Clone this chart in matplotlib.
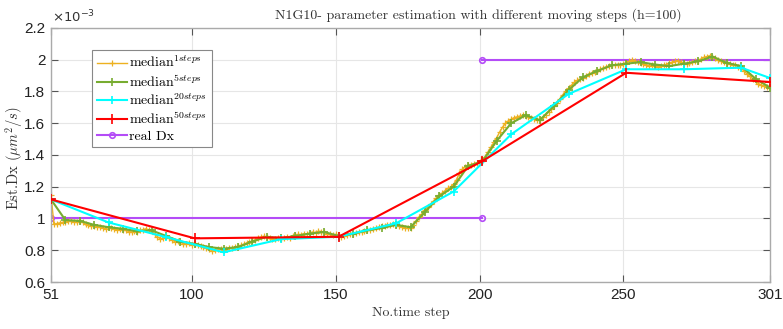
import numpy as np
import matplotlib
matplotlib.use("Agg")
import matplotlib.pyplot as plt

plt.rcParams['mathtext.fontset'] = 'cm'

# ---------------- data (Est. Dx in units of 1e-3) ----------------
steps_1 = list(range(51, 302))
median_1 = [1.15,
    0.965, 0.968, 0.972, 0.975,
    0.978, 0.982, 0.985, 0.98, 0.975,
    0.982, 0.975, 0.965, 0.958, 0.952,
    0.955, 0.948, 0.945, 0.94, 0.935,
    0.945, 0.94, 0.932, 0.928, 0.935,
    0.93, 0.925, 0.918, 0.915, 0.92,
    0.918, 0.925, 0.93, 0.935, 0.928,
    0.92, 0.905, 0.885, 0.872, 0.878,
    0.888, 0.88, 0.865, 0.855, 0.86,
    0.85, 0.842, 0.838, 0.845, 0.835,
    0.838, 0.83, 0.825, 0.818, 0.812,
    0.805, 0.798, 0.802, 0.81, 0.806,
    0.8, 0.808, 0.815, 0.812, 0.82,
    0.825, 0.83, 0.838, 0.845, 0.852,
    0.858, 0.865, 0.875, 0.882, 0.888,
    0.885, 0.878, 0.872, 0.868, 0.875,
    0.872, 0.878, 0.885, 0.88, 0.888,
    0.895, 0.9, 0.898, 0.905, 0.902,
    0.908, 0.915, 0.91, 0.92, 0.918,
    0.912, 0.905, 0.9, 0.895, 0.9,
    0.888, 0.882, 0.89, 0.898, 0.905,
    0.9, 0.908, 0.912, 0.918, 0.922,
    0.928, 0.925, 0.932, 0.938, 0.945,
    0.95, 0.955, 0.962, 0.958, 0.965,
    0.958, 0.95, 0.945, 0.94, 0.938,
    0.942, 0.96, 0.985, 1.01, 1.03,
    1.055, 1.075, 1.09, 1.11, 1.13,
    1.145, 1.16, 1.175, 1.19, 1.2,
    1.215, 1.245, 1.285, 1.31, 1.325,
    1.335, 1.34, 1.345, 1.35, 1.355,
    1.365, 1.39, 1.42, 1.45, 1.48,
    1.51, 1.545, 1.575, 1.6, 1.615,
    1.625, 1.635, 1.64, 1.645, 1.65,
    1.648, 1.64, 1.632, 1.625, 1.618,
    1.62, 1.638, 1.655, 1.672, 1.69,
    1.71, 1.73, 1.755, 1.78, 1.8,
    1.82, 1.84, 1.858, 1.87, 1.88,
    1.888, 1.9, 1.91, 1.915, 1.922,
    1.93, 1.94, 1.948, 1.955, 1.96,
    1.965, 1.968, 1.97, 1.965, 1.975,
    1.98, 1.99, 2.0, 1.995, 1.985,
    1.98, 1.975, 1.968, 1.962, 1.965,
    1.958, 1.955, 1.96, 1.965, 1.97,
    1.978, 1.985, 1.99, 1.995, 1.985,
    1.98, 1.975, 1.98, 1.985, 1.99,
    1.995, 2.005, 2.015, 2.02, 2.025,
    2.02, 2.01, 1.998, 1.99, 1.985,
    1.978, 1.975, 1.97, 1.965, 1.955,
    1.945, 1.93, 1.91, 1.895, 1.88,
    1.865, 1.85, 1.84, 1.835, 1.83,
    1.82]

steps_5 = list(range(51, 302, 5))
median_5 = [1.12, 0.99, 0.985, 0.96, 0.945, 0.935, 0.92, 0.925, 0.89, 0.855,
            0.84, 0.82, 0.81, 0.82, 0.855, 0.885, 0.875, 0.89, 0.905, 0.915,
            0.89, 0.905, 0.925, 0.94, 0.96, 0.945, 1.04, 1.14, 1.20, 1.33,
            1.36, 1.49, 1.60, 1.65, 1.62, 1.71, 1.81, 1.89, 1.93, 1.965,
            1.975, 1.985, 1.97, 1.96, 1.975, 1.99, 2.02, 1.98, 1.96, 1.88,
            1.825]

steps_20 = [51, 71, 91, 111, 131, 151, 171, 191, 211, 231, 251, 271, 291, 301]
median_20 = [1.12, 0.975, 0.883, 0.787, 0.87, 0.885, 0.97, 1.17, 1.53, 1.785,
             1.94, 1.94, 1.95, 1.885]

steps_50 = [51, 101, 151, 201, 251, 301]
median_50 = [1.12, 0.875, 0.885, 1.362, 1.918, 1.86]

real_x = [51, 201, np.nan, 201, 301]
real_dx = [1.0, 1.0, np.nan, 2.0, 2.0]

xticks = [51, 100, 150, 200, 250, 301]
yticks = [0.6, 0.8, 1.0, 1.2, 1.4, 1.6, 1.8, 2.0, 2.2]
ytick_labels = ['0.6', '0.8', '1', '1.2', '1.4', '1.6', '1.8', '2', '2.2']

# ---------------- figure ----------------
W, H = 783, 329
fig = plt.figure(figsize=(W / 100, H / 100), dpi=100)
ax = fig.add_axes([51 / W, 1 - 282 / H, (770 - 51) / W, (282 - 28) / H])

c_orange = '#EDB120'
c_green = '#77AC30'
c_cyan = '#00FFFF'
c_red = '#FF0000'
c_purple = '#B44CF7'

ax.plot(steps_1, median_1, color=c_orange, lw=1.0, marker='+', ms=5, mew=0.9,
        label=r'median$^{1steps}$', zorder=2)
ax.plot(steps_5, median_5, color=c_green, lw=1.5, marker='+', ms=6, mew=1.2,
        label=r'median$^{5steps}$', zorder=3)
ax.plot(steps_20, median_20, color=c_cyan, lw=1.5, marker='+', ms=6, mew=1.2,
        label=r'median$^{20steps}$', zorder=4)
ax.plot(steps_50, median_50, color=c_red, lw=1.5, marker='+', ms=7, mew=1.2,
        label=r'median$^{50steps}$', zorder=5)
ax.plot(real_x, real_dx, color=c_purple, lw=1.5, marker='o', ms=4, mew=1.2,
        mfc='none', markevery=[0, 1, 3], label='real Dx', zorder=1)

ax.set_xlim(51, 301)
ax.set_ylim(0.6, 2.2)
ax.set_xticks(xticks)
ax.set_xticklabels([str(t) for t in xticks])
ax.set_yticks(yticks)
ax.set_yticklabels(ytick_labels)
ax.grid(True, color='#E6E6E6', lw=0.8)
ax.set_axisbelow(True)
ax.tick_params(direction='in', length=5, width=0.8, colors='#555555',
               top=True, right=True, labelsize=11, pad=4)
for lab in ax.get_xticklabels() + ax.get_yticklabels():
    lab.set_fontfamily('Liberation Sans')
    lab.set_color('#222222')
for sp in ax.spines.values():
    sp.set_color('#AAAAAA')
    sp.set_linewidth(1.0)

fig.text(52 / W, 1 - 17 / H, r'$\times10^{-3}$', fontsize=9.5, color='#333333',
         va='center', ha='left', math_fontfamily='dejavusans')

fig.text(478 / W, 1 - 15 / H,
         'N1G10- parameter estimation with different moving steps (h=100)',
         fontsize=10, family='cmr10', ha='center', va='center', color='#333333')
fig.text(411 / W, 1 - 313 / H, 'No.time step', fontsize=10, family='cmr10',
         ha='center', va='center', color='#333333')
fig.text(14 / W, 1 - 158 / H, r'Est.Dx ($\mu m^2/s$)', fontsize=10.5,
         family='cmr10', ha='center', va='center', rotation=90, color='#333333')

leg = ax.legend(loc='upper left', bbox_to_anchor=((92 - 51) / 719, (282 - 50) / 254),
                prop={'family': 'cmr10', 'size': 10}, frameon=True, fancybox=False,
                edgecolor='#888888', framealpha=1, handlelength=2.2,
                handletextpad=0.1, labelspacing=0.2, borderpad=0.35,
                borderaxespad=0)
leg.get_frame().set_linewidth(0.8)

fig.savefig('out.png', dpi=100)
